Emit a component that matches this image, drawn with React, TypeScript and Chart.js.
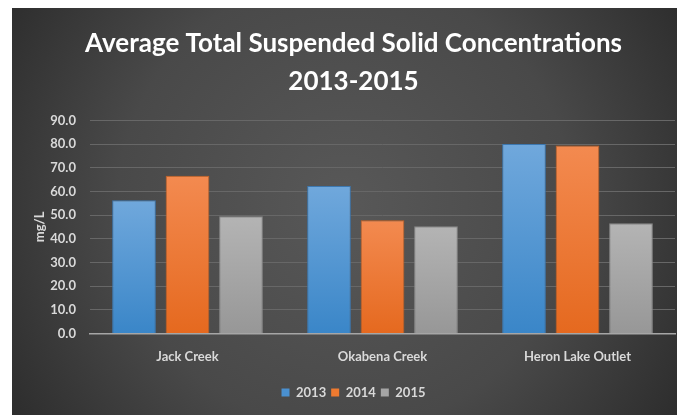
import React, { useEffect, useRef } from "react";
import { Chart, registerables } from "chart.js";

Chart.register(...registerables);

const categories = ["Jack Creek", "Okabena Creek", "Heron Lake Outlet"];
const seriesNames = ["2013", "2014", "2015"];
const values2013 = [56.3, 62.3, 80.0];
const values2014 = [66.6, 47.8, 79.4];
const values2015 = [49.5, 45.3, 46.5];
const titleLines = ["Average Total Suspended Solid Concentrations", "2013-2015"];
const yAxisTitle = "mg/L";

const palette = [
  { top: "#70a8dc", bottom: "#3a86c8", solid: "#4a90d0", border: "#3d78b0" },
  { top: "#f38a50", bottom: "#e5691f", solid: "#ee7a30", border: "#c9601f" },
  { top: "#b4b4b4", bottom: "#979797", solid: "#a5a5a5", border: "#888888" },
];

const FONT = "Lato, 'Open Sans', sans-serif";

const bgPlugin = {
  id: "bgPlugin",
  beforeDraw(chart: any) {
    const { ctx, width, height } = chart;
    ctx.save();
    const g = ctx.createRadialGradient(width * 0.5, height * 0.48, 0, width * 0.5, height * 0.48, width * 0.62);
    g.addColorStop(0, "#585858");
    g.addColorStop(0.55, "#494949");
    g.addColorStop(1, "#2a2a2a");
    ctx.fillStyle = g;
    ctx.fillRect(0, 0, width, height);
    ctx.restore();
  },
};

function barFill(i: number) {
  return (c: any) => {
    const chart = c.chart;
    const area = chart.chartArea;
    const ys = chart.scales && chart.scales.y;
    if (!area || !ys || c.raw == null) return palette[i].solid;
    const top = ys.getPixelForValue(c.raw);
    const bottom = ys.getPixelForValue(0);
    if (!isFinite(top) || !isFinite(bottom) || top === bottom) return palette[i].solid;
    const g = chart.ctx.createLinearGradient(0, top, 0, bottom);
    g.addColorStop(0, palette[i].top);
    g.addColorStop(1, palette[i].bottom);
    return g;
  };
}

export default function App() {
  const ref = useRef<HTMLCanvasElement>(null);
  useEffect(() => {
    if (!ref.current) return;
    const all = [values2013, values2014, values2015];
    const chart = new Chart(ref.current, {
      type: "bar",
      data: {
        labels: categories,
        datasets: all.map((vals, i) => ({
          label: seriesNames[i],
          data: vals,
          backgroundColor: barFill(i),
          borderColor: palette[i].border,
          borderWidth: 1,
          categoryPercentage: 0.823,
          barPercentage: 0.817,
        })),
      },
      options: {
        responsive: false,
        animation: false,
        devicePixelRatio: 1,
        layout: { padding: { left: 20, right: 2, top: 17, bottom: 6 } },
        plugins: {
          title: {
            display: true,
            text: titleLines,
            color: "#ffffff",
            font: { family: FONT, size: 26, weight: "bold", lineHeight: 1.45 },
            padding: { top: 0, bottom: 20 },
          },
          legend: {
            position: "bottom",
            labels: {
              color: "#d9d9d9",
              font: { family: FONT, size: 13, weight: "bold" },
              boxWidth: 8,
              boxHeight: 8,
              padding: 5,
              generateLabels: () =>
                seriesNames.map((n, i) => ({
                  text: n,
                  fillStyle: palette[i].solid,
                  strokeStyle: palette[i].solid,
                  lineWidth: 0,
                  fontColor: "#d9d9d9",
                  datasetIndex: i,
                  hidden: false,
                })),
            },
          },
          tooltip: { enabled: false },
        },
        scales: {
          x: {
            grid: { display: false },
            border: { display: true, color: "#a6a6a6", width: 1.5 },
            ticks: { color: "#d9d9d9", font: { family: FONT, size: 13, weight: "bold" }, padding: 8 },
            afterFit: (s: any) => {
              s.height += 8;
            },
          },
          y: {
            min: 0,
            max: 90,
            ticks: {
              stepSize: 10,
              color: "#d9d9d9",
              font: { family: FONT, size: 13, weight: "bold" },
              padding: 14,
              callback: (v: any) => Number(v).toFixed(1),
            },
            grid: { color: "#676767", lineWidth: 1, drawTicks: false },
            border: { display: false },
            title: {
              display: true,
              text: yAxisTitle,
              color: "#d9d9d9",
              font: { family: FONT, size: 13, weight: "bold" },
              padding: { top: 0, bottom: 0 },
            },
            afterFit: (s: any) => {
              s.width = 58;
            },
          },
        },
      },
      plugins: [bgPlugin],
    } as any);
    return () => chart.destroy();
  }, []);
  return (
    <div style={{ position: "fixed", left: 12, top: 8, width: 665, height: 407 }}>
      <canvas ref={ref} width={665} height={407} style={{ display: "block", width: 665, height: 407 }} />
    </div>
  );
}
